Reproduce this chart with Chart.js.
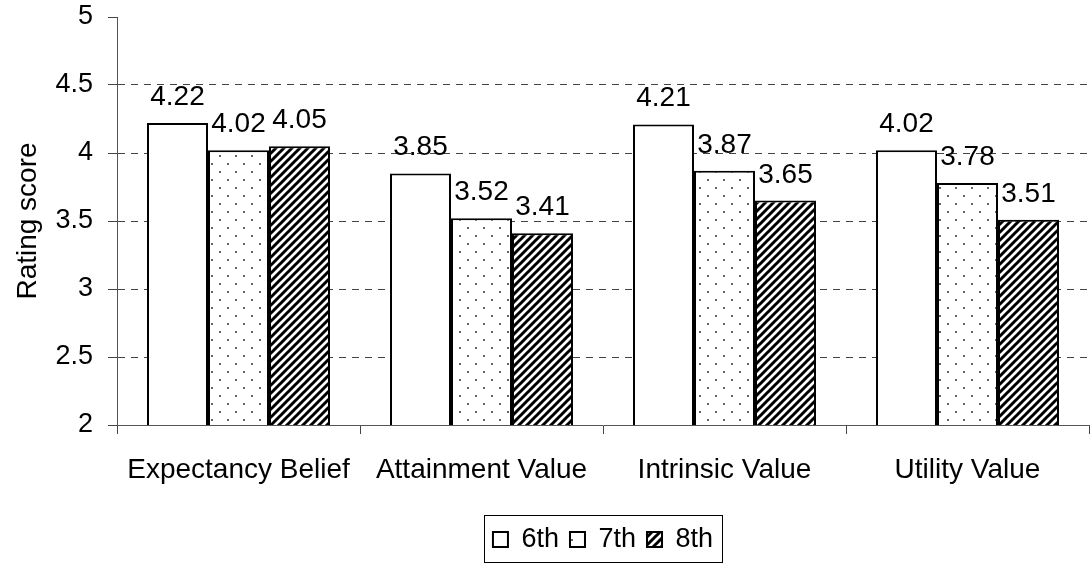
<!DOCTYPE html>
<html>
<head>
<meta charset="utf-8">
<script src="https://cdn.jsdelivr.net/npm/chart.js@4"></script>
<style>
  html, body { margin: 0; padding: 0; background: #fff; }
  #c { display: block; }
</style>
</head>
<body>
<canvas id="c" width="1090" height="564"></canvas>
<script>
const categories = ['Expectancy Belief', 'Attainment Value', 'Intrinsic Value', 'Utility Value'];
const seriesLabels = ['6th', '7th', '8th'];
const grade6 = [4.22, 3.85, 4.21, 4.02];
const grade7 = [4.02, 3.52, 3.87, 3.78];
const grade8 = [4.05, 3.41, 3.65, 3.51];
const yMin = 2, yMax = 5, yStep = 0.5;
const axisTitle = 'Rating score';

const FONT = "'Liberation Sans', Arial, sans-serif";
const FS_BIG = 28;
const FS_TICK = 27;

function dotPattern() {
  const c = document.createElement('canvas');
  c.width = 16; c.height = 16;
  const x = c.getContext('2d');
  x.fillStyle = '#fff'; x.fillRect(0, 0, 16, 16);
  x.fillStyle = '#666';
  x.fillRect(3, 3, 2, 2);
  x.fillRect(11, 11, 2, 2);
  return x.createPattern(c, 'repeat');
}
function stripePattern() {
  const c = document.createElement('canvas');
  c.width = 8; c.height = 8;
  const x = c.getContext('2d');
  x.fillStyle = '#fff'; x.fillRect(0, 0, 8, 8);
  x.strokeStyle = '#000'; x.lineWidth = 3;
  x.beginPath();
  x.moveTo(-2, 10); x.lineTo(10, -2);
  x.moveTo(-6, 6); x.lineTo(6, -6);
  x.moveTo(2, 14); x.lineTo(14, 2);
  x.stroke();
  return x.createPattern(c, 'repeat');
}

const fills = ['#ffffff', dotPattern(), stripePattern()];
const seriesData = [grade6, grade7, grade8];

const valueLabels = {
  id: 'valueLabels',
  afterDatasetsDraw(chart) {
    const ctx = chart.ctx;
    ctx.save();
    ctx.font = FS_BIG + 'px ' + FONT;
    ctx.fillStyle = '#000';
    ctx.textAlign = 'center';
    ctx.textBaseline = 'alphabetic';
    chart.data.datasets.forEach((ds, i) => {
      chart.getDatasetMeta(i).data.forEach((el, j) => {
        ctx.fillText(ds.data[j].toFixed(2), el.x, el.y - 18);
      });
    });
    ctx.restore();
  }
};

const legendBorder = {
  id: 'legendBorder',
  afterDraw(chart) {
    const lg = chart.legend;
    if (!lg || !lg.legendHitBoxes || !lg.legendHitBoxes.length) return;
    const hb = lg.legendHitBoxes;
    const left = Math.min(...hb.map(b => b.left)) - 9;
    const right = Math.max(...hb.map(b => b.left + b.width)) + 9;
    const top = lg.top;
    const bottom = lg.top + 47;
    const ctx = chart.ctx;
    ctx.save();
    ctx.strokeStyle = '#000';
    ctx.lineWidth = 1;
    ctx.strokeRect(Math.round(left) + 0.5, Math.round(top) + 0.5, Math.round(right - left), Math.round(bottom - top));
    ctx.restore();
  }
};

new Chart(document.getElementById('c'), {
  type: 'bar',
  data: {
    labels: categories,
    datasets: seriesLabels.map((lab, i) => ({
      label: lab,
      data: seriesData[i],
      backgroundColor: fills[i],
      borderColor: '#000',
      borderWidth: 2,
      borderSkipped: false,
      categoryPercentage: 0.753,
      barPercentage: 1.0
    }))
  },
  options: {
    responsive: false,
    animation: false,
    devicePixelRatio: 1,
    layout: { padding: { top: 17, right: 1, bottom: 1, left: 0 } },
    plugins: {
      tooltip: { enabled: false },
      legend: {
        position: 'bottom',
        fullSize: false,
        labels: {
          color: '#000',
          font: { family: FONT, size: FS_TICK },
          boxWidth: 15,
          boxHeight: 15,
          padding: 11
        }
      }
    },
    scales: {
      x: {
        afterFit(s) { s.height = 90; },
        grid: {
          offset: true,
          drawOnChartArea: false,
          drawTicks: true,
          tickLength: 9,
          tickColor: '#444',
          color: '#444'
        },
        border: { display: true, color: '#555', width: 1 },
        ticks: {
          color: '#000',
          font: { family: FONT, size: FS_BIG },
          padding: 19,
          maxRotation: 0,
          autoSkip: false
        }
      },
      y: {
        min: yMin,
        max: yMax,
        afterFit(s) { s.width = 117; s.paddingTop = 0; s.paddingBottom = 0; },
        ticks: {
          stepSize: yStep,
          color: '#000',
          font: { family: FONT, size: FS_TICK },
          padding: 15,
          callback: (v) => String(v)
        },
        grid: {
          color: (c) => (c.tick && (c.tick.value === yMax || c.tick.value === yMin)) ? 'rgba(0,0,0,0)' : '#444',
          tickColor: '#444',
          tickLength: 9,
          tickBorderDash: [],
          lineWidth: 1
        },
        border: { display: true, color: '#555', width: 1, dash: [7, 6] },
        title: {
          display: true,
          text: axisTitle,
          color: '#000',
          font: { family: FONT, size: FS_BIG },
          padding: { top: 11, bottom: 0 }
        }
      }
    }
  },
  plugins: [valueLabels, legendBorder]
});
</script>
</body>
</html>
